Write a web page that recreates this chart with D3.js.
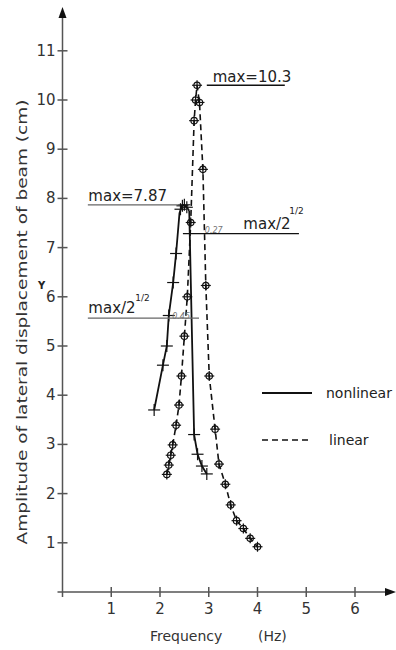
<!DOCTYPE html>
<html>
<head>
<meta charset="utf-8">
<script src="https://cdn.jsdelivr.net/npm/d3@7"></script>
<style>
  html, body { margin: 0; padding: 0; background: #fff; }
  svg { display: block; }
</style>
</head>
<body>
<div id="chart"></div>
<script>
// Data: [frequency (Hz), amplitude (cm)]
const nonlinearRise = [[1.88, 3.70], [2.06, 4.61], [2.14, 5.00], [2.18, 5.62], [2.27, 6.29], [2.33, 6.88], [2.40, 7.70], [2.45, 7.85], [2.50, 7.87], [2.55, 7.82], [2.60, 7.75]]
const nonlinearFall = [[2.60, 7.75], [2.70, 3.20], [2.77, 2.80], [2.86, 2.56], [2.96, 2.40]]
const nonlinearMarks = [[1.88, 3.70], [2.06, 4.61], [2.14, 5.00], [2.18, 5.62], [2.27, 6.29], [2.33, 6.88], [2.42, 7.78], [2.46, 7.85], [2.50, 7.87], [2.55, 7.82], [2.70, 3.20], [2.77, 2.80], [2.86, 2.56], [2.96, 2.40]]
const linearPoints = [[2.14, 2.39], [2.18, 2.58], [2.22, 2.78], [2.26, 2.99], [2.33, 3.39], [2.39, 3.80], [2.44, 4.39], [2.50, 5.20], [2.56, 6.00], [2.63, 7.51], [2.70, 9.58], [2.73, 10.0], [2.76, 10.3], [2.81, 9.95], [2.88, 8.59], [2.94, 6.23], [3.01, 4.39], [3.13, 3.31], [3.21, 2.60], [3.34, 2.19], [3.45, 1.77], [3.57, 1.45], [3.71, 1.29], [3.85, 1.09], [4.00, 0.92]]
const xTicks = [1, 2, 3, 4, 5, 6]
const yTicks = [1, 2, 3, 4, 5, 6, 7, 8, 9, 10, 11]
const linearMax = 10.3
const nonlinearMax = 7.87

const width = 396
const height = 650
const font = 'DejaVu Sans, sans-serif'
const ink = '#222'

const x = d3.scaleLinear().domain([0, 6]).range([62.5, 355])
const y = d3.scaleLinear().domain([0, 11]).range([592, 50.8])

const svg = d3.select('#chart').append('svg')
  .attr('width', width)
  .attr('height', height)
  .attr('viewBox', [0, 0, width, height].join(' '))

// Axes
const axisG = svg.append('g').attr('stroke', '#555').attr('stroke-width', 1.5)
axisG.append('line').attr('x1', x(0)).attr('x2', x(0)).attr('y1', y(0) + 5).attr('y2', 14)
axisG.append('line').attr('x1', x(0) - 5).attr('x2', 392).attr('y1', y(0)).attr('y2', y(0))
svg.append('path').attr('d', `M${x(0)},7 L${x(0) - 4},18 L${x(0) + 4},18 Z`).attr('fill', '#111')
svg.append('path').attr('d', `M396,${y(0)} L385,${y(0) - 4} L385,${y(0) + 4} Z`).attr('fill', '#111')

// Cross-shaped ticks
axisG.selectAll('.xt').data(xTicks).enter().append('line')
  .attr('x1', d => x(d)).attr('x2', d => x(d))
  .attr('y1', y(0) - 5).attr('y2', y(0) + 5)
axisG.selectAll('.yt').data(yTicks).enter().append('line')
  .attr('x1', x(0) - 5).attr('x2', x(0) + 5)
  .attr('y1', d => y(d)).attr('y2', d => y(d))

svg.selectAll('.xl').data(xTicks).enter().append('text')
  .attr('x', d => x(d)).attr('y', y(0) + 22)
  .attr('text-anchor', 'middle')
  .style('font', `15px ${font}`).attr('fill', '#333')
  .text(d => d)
svg.selectAll('.yl').data(yTicks).enter().append('text')
  .attr('x', x(0) - 7).attr('y', d => y(d) + 5)
  .attr('text-anchor', 'end')
  .style('font', `15px ${font}`).attr('fill', '#333')
  .text(d => d)

// Axis titles
svg.append('text').attr('x', 150).attr('y', 641)
  .style('font', `14px ${font}`).attr('fill', '#333').text('Frequency')
svg.append('text').attr('x', 258).attr('y', 641)
  .style('font', `14px ${font}`).attr('fill', '#333').text('(Hz)')
svg.append('text')
  .attr('transform', 'translate(27, 322) rotate(-90)')
  .attr('text-anchor', 'middle')
  .style('font', `14px ${font}`).attr('fill', '#333')
  .attr('textLength', 445).attr('lengthAdjust', 'spacingAndGlyphs')
  .text('Amplitude of lateral displacement of beam (cm)')
svg.append('text').attr('x', 38).attr('y', 289)
  .style('font', `bold 10px ${font}`).attr('fill', '#222').text('Y')

// Curves
const line = d3.line().x(d => x(d[0])).y(d => y(d[1]))
svg.append('path').datum(linearPoints).attr('d', line)
  .attr('fill', 'none').attr('stroke', '#111').attr('stroke-width', 1.6)
  .attr('stroke-dasharray', '6,4')
svg.append('path').datum(nonlinearRise).attr('d', line)
  .attr('fill', 'none').attr('stroke', '#111').attr('stroke-width', 1.8)
svg.append('path').datum(nonlinearFall).attr('d', line)
  .attr('fill', 'none').attr('stroke', '#111').attr('stroke-width', 1.8)

// Markers
const nm = svg.append('g').attr('stroke', '#111').attr('stroke-width', 1.2)
nm.selectAll('.nh').data(nonlinearMarks).enter().append('line')
  .attr('x1', d => x(d[0]) - 6).attr('x2', d => x(d[0]) + 6)
  .attr('y1', d => y(d[1])).attr('y2', d => y(d[1]))
nm.selectAll('.nv').data(nonlinearMarks).enter().append('line')
  .attr('x1', d => x(d[0])).attr('x2', d => x(d[0]))
  .attr('y1', d => y(d[1]) - 6).attr('y2', d => y(d[1]) + 6)

const lm = svg.append('g').attr('stroke', '#111').attr('stroke-width', 1.2).attr('fill', 'none')
lm.selectAll('circle').data(linearPoints).enter().append('circle')
  .attr('cx', d => x(d[0])).attr('cy', d => y(d[1])).attr('r', 3.2)
lm.selectAll('.lh').data(linearPoints).enter().append('line')
  .attr('x1', d => x(d[0]) - 5).attr('x2', d => x(d[0]) + 5)
  .attr('y1', d => y(d[1])).attr('y2', d => y(d[1]))
lm.selectAll('.lv').data(linearPoints).enter().append('line')
  .attr('x1', d => x(d[0])).attr('x2', d => x(d[0]))
  .attr('y1', d => y(d[1]) - 5).attr('y2', d => y(d[1]) + 5)

// Annotations
const ann = svg.append('g')
const hline = (f0, f1, a, color) => ann.append('line')
  .attr('x1', x(f0)).attr('x2', x(f1)).attr('y1', y(a)).attr('y2', y(a))
  .attr('stroke', color).attr('stroke-width', 1.3)
const label = (px, py, txt, size, opts = {}) => ann.append('text')
  .attr('x', px).attr('y', py)
  .style('font', `${opts.italic ? 'italic ' : ''}${size}px ${font}`)
  .attr('fill', opts.fill || ink).text(txt)

hline(2.96, 4.56, linearMax, '#111')
label(x(3.08), y(linearMax) - 3, 'max=' + linearMax, 15)

hline(0.52, 2.41, nonlinearMax, '#666')
label(x(0.53), y(nonlinearMax) - 4, 'max=' + nonlinearMax, 15)

hline(2.47, 4.85, linearMax / Math.SQRT2, '#111')
label(x(3.71), y(linearMax / Math.SQRT2) - 5, 'max/2', 15)
label(x(3.71) + 46, y(linearMax / Math.SQRT2) - 20, '1/2', 9)
label(x(2.92), y(linearMax / Math.SQRT2) - 1, '0.27', 8, { italic: true, fill: '#777' })

hline(0.52, 2.80, nonlinearMax / Math.SQRT2, '#666')
label(x(0.53), y(nonlinearMax / Math.SQRT2) - 5, 'max/2', 15)
label(x(0.53) + 47, y(nonlinearMax / Math.SQRT2) - 17, '1/2', 9)
label(x(2.25), y(nonlinearMax / Math.SQRT2) + 1, '0.45', 8, { italic: true, fill: '#777' })

// Legend
const legend = svg.append('g')
legend.append('line').attr('x1', 262).attr('x2', 312).attr('y1', 393).attr('y2', 393)
  .attr('stroke', '#111').attr('stroke-width', 1.8)
legend.append('line').attr('x1', 262).attr('x2', 312).attr('y1', 440).attr('y2', 440)
  .attr('stroke', '#111').attr('stroke-width', 1.6).attr('stroke-dasharray', '6,4')
legend.append('text').attr('x', 326).attr('y', 398)
  .style('font', `14px ${font}`).attr('fill', ink).text('nonlinear')
legend.append('text').attr('x', 329).attr('y', 445)
  .style('font', `14px ${font}`).attr('fill', ink).text('linear')
</script>
</body>
</html>
